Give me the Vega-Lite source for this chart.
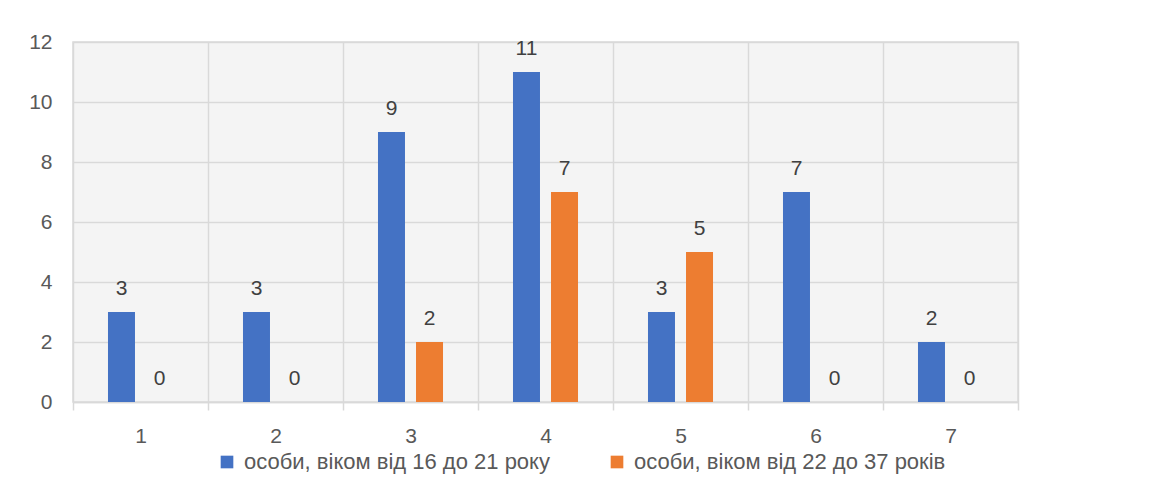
{
  "$schema": "https://vega.github.io/schema/vega-lite/v6.json",
  "width": 945,
  "height": 360,
  "autosize": {"type": "none"},
  "padding": {"left": 73, "top": 42, "right": 133, "bottom": 91},
  "background": "white",
  "config": {
    "font": "Liberation Sans",
    "view": {"stroke": "#d9d9d9", "strokeWidth": 1.5, "fill": "#f4f4f4"}
  },
  "data": {
    "values": [
      {"group": "1", "series": "особи, віком від 16 до 21 року", "value": 3},
      {"group": "1", "series": "особи, віком від 22 до 37 років", "value": 0},
      {"group": "2", "series": "особи, віком від 16 до 21 року", "value": 3},
      {"group": "2", "series": "особи, віком від 22 до 37 років", "value": 0},
      {"group": "3", "series": "особи, віком від 16 до 21 року", "value": 9},
      {"group": "3", "series": "особи, віком від 22 до 37 років", "value": 2},
      {"group": "4", "series": "особи, віком від 16 до 21 року", "value": 11},
      {"group": "4", "series": "особи, віком від 22 до 37 років", "value": 7},
      {"group": "5", "series": "особи, віком від 16 до 21 року", "value": 3},
      {"group": "5", "series": "особи, віком від 22 до 37 років", "value": 5},
      {"group": "6", "series": "особи, віком від 16 до 21 року", "value": 7},
      {"group": "6", "series": "особи, віком від 22 до 37 років", "value": 0},
      {"group": "7", "series": "особи, віком від 16 до 21 року", "value": 2},
      {"group": "7", "series": "особи, віком від 22 до 37 років", "value": 0}
    ]
  },
  "encoding": {
    "x": {
      "field": "group", "type": "nominal",
      "scale": {"paddingInner": 0, "paddingOuter": 0},
      "axis": {
        "title": null, "labelAngle": 0, "labelFontSize": 21, "labelColor": "#595959",
        "tickBand": "extent", "tickColor": "#d9d9d9", "tickSize": 8, "tickWidth": 1.5,
        "domainColor": "#d9d9d9", "domainWidth": 1.5,
        "grid": true, "gridColor": "#d9d9d9", "gridWidth": 1.5,
        "labelPadding": 15
      }
    },
    "xOffset": {
      "field": "series", "type": "nominal",
      "scale": {"paddingInner": 0.29, "paddingOuter": 0.92}
    },
    "y": {
      "field": "value", "type": "quantitative",
      "scale": {"domain": [0, 12]},
      "axis": {
        "title": null, "values": [0, 2, 4, 6, 8, 10, 12], "labelOverlap": false,
        "labelFontSize": 21, "labelColor": "#595959", "ticks": false, "domain": false,
        "labelPadding": 21, "gridColor": "#d9d9d9", "gridWidth": 1.5
      }
    }
  },
  "layer": [
    {
      "mark": {"type": "bar"},
      "encoding": {
        "color": {
          "field": "series", "type": "nominal",
          "scale": {"range": ["#4472C4", "#ED7D31"]},
          "legend": {
            "title": null, "orient": "none", "legendX": 143, "legendY": 409,
            "direction": "horizontal",
            "labelFontSize": 22, "labelColor": "#595959", "symbolType": "square",
            "symbolSize": 160, "symbolStrokeWidth": 0, "columnPadding": 56,
            "labelOffset": 6, "labelLimit": 500
          }
        }
      }
    },
    {
      "mark": {"type": "text", "fontSize": 21, "color": "#404040", "baseline": "alphabetic", "dy": -17},
      "encoding": {"text": {"field": "value", "type": "quantitative"}}
    }
  ]
}
